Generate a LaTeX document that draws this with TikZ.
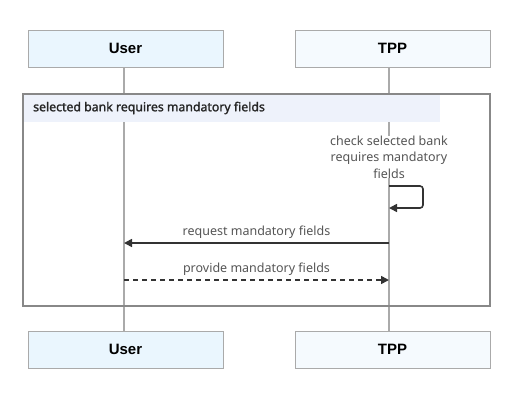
\documentclass[tikz,border=0pt]{standalone}
\usepackage{fontspec}
\setmainfont{Noto Sans}
\newfontfamily\headfont{Liberation Sans}
\newfontfamily\labfont[FakeBold=1.6]{Noto Sans}
\usetikzlibrary{arrows.meta}
\definecolor{userfill}{HTML}{EAF6FE}
\definecolor{tppfill}{HTML}{F5FAFE}
\definecolor{boxline}{HTML}{AAAAAA}
\definecolor{frameline}{HTML}{888888}
\definecolor{labelfill}{HTML}{EEF2FB}
\definecolor{arrowcol}{HTML}{333333}
\definecolor{notecol}{HTML}{555555}
\tikzset{
  x=1pt, y=-1pt,
  actor/.style={draw=boxline, line width=1pt, minimum width=195pt, minimum height=37pt, inner sep=0pt, font=\headfont\bfseries\fontsize{15}{17}\selectfont},
  lifeline/.style={draw=boxline, line width=2pt},
  msg/.style={draw=arrowcol, line width=1.6pt, -{Triangle[length=8pt,width=8pt]}},
  msglabel/.style={font=\fontsize{12.5}{14}\selectfont, text=notecol, inner sep=0pt},
}
\begin{document}
\begin{tikzpicture}
\useasboundingbox (0,0) rectangle (518,402);
% actors
\node[actor, fill=userfill] (ut) at (125.5,48.5) {User};
\node[actor, fill=tppfill] (tt) at (392.5,48.5) {TPP};
\node[actor, fill=userfill] (ub) at (125.5,349.5) {User};
\node[actor, fill=tppfill] (tb) at (392.5,349.5) {TPP};
% lifelines
\draw[lifeline] (ut.south -| 124,0) -- (ub.north -| 124,0);
\draw[lifeline] (tt.south -| 389,0) -- (tb.north -| 389,0);
% frame
\node[draw=none, fill=labelfill, minimum width=417pt, minimum height=28pt, inner sep=0pt, anchor=north west] (flab) at (23,94) {};
\node[anchor=west, inner sep=0pt, font=\labfont\bfseries\fontsize{12.3}{14}\selectfont, text=black!85] (ftext) at (33,108) {selected bank requires mandatory fields};
\draw[frameline, line width=2pt] (23,94) rectangle (490,306);
% note
\node[align=center, font=\fontsize{12.5}{16.5}\selectfont, text=notecol, inner sep=0pt, fill=white] (note) at (389,157) {check selected bank\\requires mandatory\\fields};
% self arrow
\coordinate (s1) at (389,186);
\coordinate (s2) at (389,208);
\draw[msg, rounded corners=3pt] (s1) -- (423,186) -- (423,208) -- (s2);
% messages
\coordinate (ta) at (389,243);
\coordinate (ua) at (124,243);
\draw[msg] (ta) -- (ua);
\node[msglabel] (l1) at (256.5,232) {request mandatory fields};
\coordinate (ub2) at (124,280);
\coordinate (tb2) at (389,280);
\draw[msg, dashed, dash pattern=on 5pt off 4pt] (ub2) -- (tb2);
\node[msglabel] (l2) at (256.5,269) {provide mandatory fields};
\end{tikzpicture}
\end{document}
